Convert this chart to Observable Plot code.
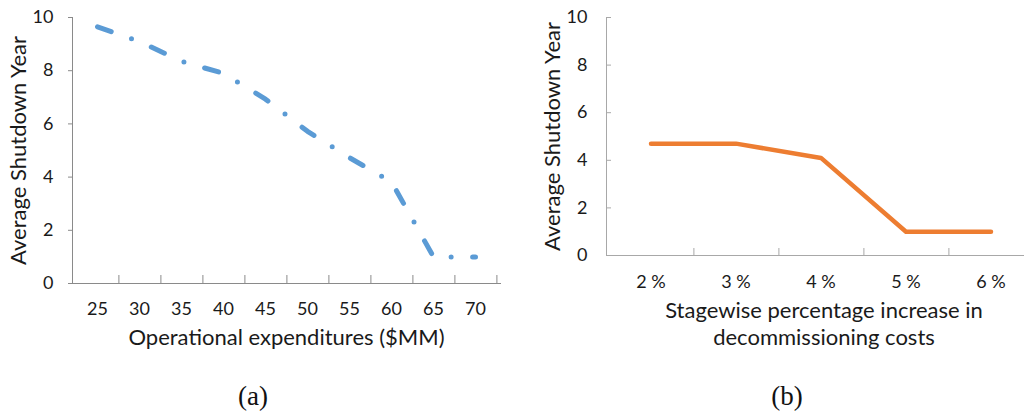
<!DOCTYPE html>
<html><head><meta charset="utf-8">
<script src="https://cdn.jsdelivr.net/npm/d3@7"></script>
<script src="https://cdn.jsdelivr.net/npm/@observablehq/plot@0.6"></script>
<style>
html,body{margin:0;padding:0;background:#fff;overflow:hidden}
#wrap{position:relative;width:1024px;height:416px;overflow:hidden;background:#fff}
.panel{position:absolute;top:0}
.cap{position:absolute;font-family:"Liberation Serif","DejaVu Serif",serif;font-size:27px;color:#111;transform:translate(-50%,-50%);white-space:nowrap}
</style></head><body><div id="wrap"></div>
<script>
// ---- data ----
const opexCategories = [25, 30, 35, 40, 45, 50, 55, 60, 65, 70];
const opexShutdown   = [9.65, 9.1, 8.35, 7.9, 6.93, 5.72, 4.73, 3.82, 1.0, 1.0];
const costCategories = ["2 %", "3 %", "4 %", "5 %", "6 %"];
const costShutdown   = [4.7, 4.7, 4.1, 1.0, 1.0];
const yTicks = [0, 2, 4, 6, 8, 10];
const yTitle = "Average Shutdown Year";
const xTitleA = "Operational expenditures ($MM)";
const xTitleB = "Stagewise percentage increase in\ndecommissioning costs";
const captions = ["(a)", "(b)"];

const grayA = "#8a8a8a";
const grayB = "#a8a8a8";
const font = "Lato, 'Open Sans', sans-serif";
const wrap = document.getElementById("wrap");

// ---- panel (a) ----
const A = {width: 512, height: 416, ml: 72, mr: 12, mt: 17, mb: 133};
const bwA = (A.width - A.ml - A.mr) / opexCategories.length;
const plotHA = A.height - A.mt - A.mb;
const dataA = opexCategories.map((c, i) => ({x: c, y: opexShutdown[i]}));
const plotA = Plot.plot({
  width: A.width, height: A.height,
  marginLeft: A.ml, marginRight: A.mr, marginTop: A.mt, marginBottom: A.mb,
  style: {fontFamily: font, color: "#1a1a1a", background: "transparent", overflow: "visible"},
  x: {type: "band", domain: opexCategories, padding: 0},
  y: {domain: [0, 10]},
  marks: [
    Plot.frame({anchor: "left", stroke: grayA}),
    Plot.frame({anchor: "bottom", stroke: grayA}),
    Plot.tickX(opexCategories, {x: d => d, dx: bwA / 2, insetTop: plotHA - 8, stroke: grayA}),
    Plot.axisY({ticks: yTicks, tickSize: 4, tickPadding: 15, fontSize: 18, stroke: grayA, label: null}),
    Plot.axisX({tickSize: 0, tickPadding: 19, fontSize: 18, label: null}),
    Plot.text([yTitle], {frameAnchor: "left", rotate: -90, dx: -53.5, fontSize: 22, textAnchor: "middle", lineAnchor: "middle"}),
    Plot.text([xTitleA], {frameAnchor: "bottom", dy: 54, fontSize: 22, textAnchor: "middle", lineAnchor: "middle"}),
    Plot.line(dataA, {x: "x", y: "y", stroke: "#5B9BD5", strokeWidth: 5,
      strokeDasharray: "14.5,21.5,0,21.5", strokeLinecap: "round", strokeLinejoin: "round"})
  ]
});
plotA.classList.add("panel");
plotA.style.left = "0px";
wrap.appendChild(plotA);

// ---- panel (b) ----
const B = {left: 512, width: 523, height: 416, ml: 94, mr: 0, mt: 17, mb: 161};
const plotWB = B.width - B.ml - B.mr;
const bwB = plotWB / costCategories.length;
const plotHB = B.height - B.mt - B.mb;
const dataB = costCategories.map((c, i) => ({x: c, y: costShutdown[i]}));
const plotB = Plot.plot({
  width: B.width, height: B.height,
  marginLeft: B.ml, marginRight: B.mr, marginTop: B.mt, marginBottom: B.mb,
  style: {fontFamily: font, color: "#1a1a1a", background: "transparent", overflow: "visible"},
  x: {type: "band", domain: costCategories, padding: 0},
  y: {domain: [0, 10]},
  marks: [
    Plot.frame({anchor: "left", stroke: grayB}),
    Plot.frame({anchor: "bottom", stroke: grayB}),
    Plot.tickX(costCategories, {x: d => d, dx: bwB / 2, insetTop: plotHB - 7, stroke: grayB}),
    Plot.tickY(yTicks, {y: d => d, insetRight: plotWB - 5, stroke: grayB}),
    Plot.axisY({ticks: yTicks, tickSize: 0, tickPadding: 19, fontSize: 18, label: null}),
    Plot.axisX({tickSize: 0, tickPadding: 19.5, fontSize: 18, label: null}),
    Plot.text([yTitle], {frameAnchor: "left", rotate: -90, dx: -54, fontSize: 22, textAnchor: "middle", lineAnchor: "middle"}),
    Plot.text([xTitleB], {frameAnchor: "bottom", dy: 67.5, dx: 3, fontSize: 22, lineHeight: 1.23, textAnchor: "middle", lineAnchor: "middle"}),
    Plot.line(dataB, {x: "x", y: "y", stroke: "#ED7D31", strokeWidth: 4.5,
      strokeLinecap: "round", strokeLinejoin: "round"})
  ]
});
plotB.classList.add("panel");
plotB.style.left = B.left + "px";
wrap.appendChild(plotB);

// ---- captions ----
[[253, 396], [787, 396]].forEach(([cx, cy], i) => {
  const d = document.createElement("div");
  d.className = "cap";
  d.textContent = captions[i];
  d.style.left = cx + "px";
  d.style.top = cy + "px";
  wrap.appendChild(d);
});
</script></body></html>
